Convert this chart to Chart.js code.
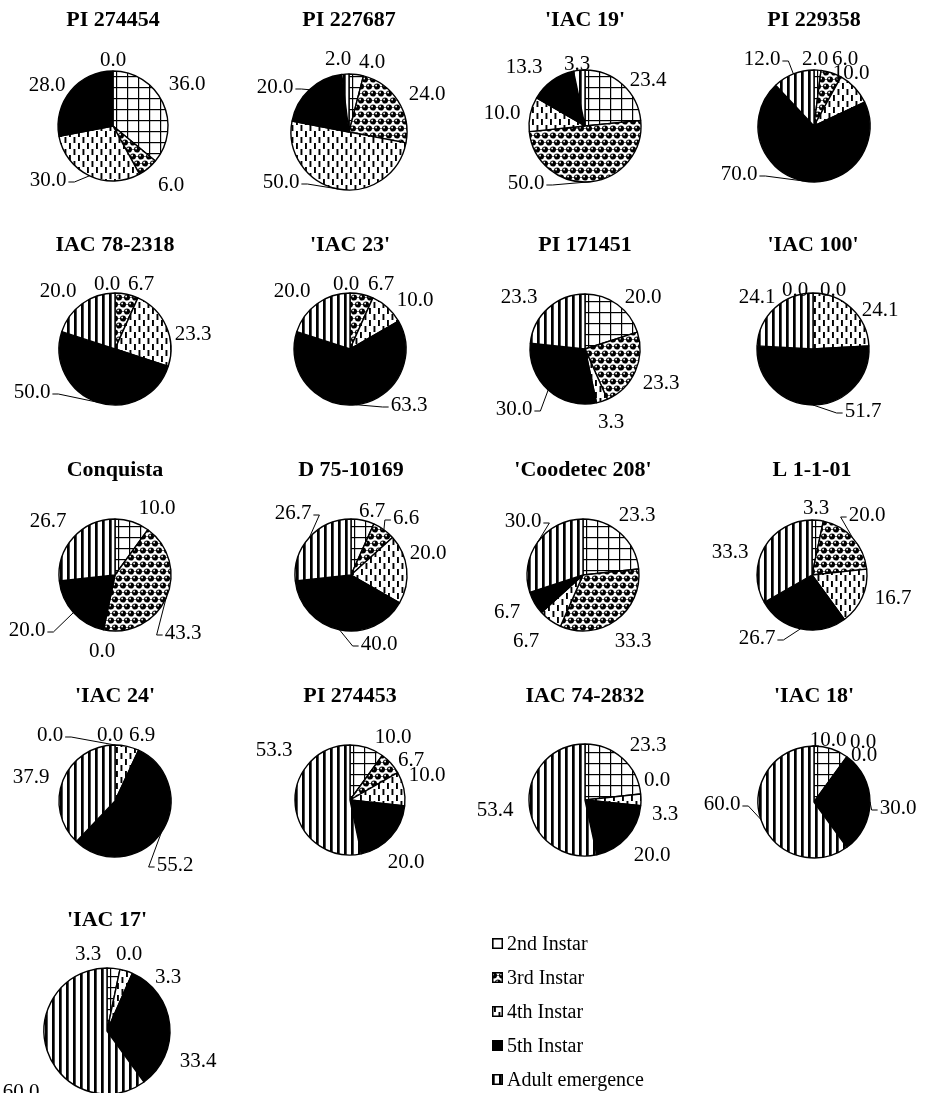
<!DOCTYPE html>
<html>
<head>
<meta charset="utf-8">
<script src="https://cdn.jsdelivr.net/npm/chart.js@4.4.0/dist/chart.umd.min.js"></script>
<style>
  body { margin: 0; width: 925px; height: 1093px; overflow: hidden; background: #fff; position: relative;
         font-family: "Liberation Serif", "Times New Roman", serif; }
  canvas.pie { position: absolute; }
  #legend { position: absolute; left: 492px; top: 926px; }
  .item { display: flex; align-items: center; height: 34px; font-size: 20px; color: #000; }
  .item canvas { margin-right: 4px; }
</style>
</head>
<body>
<div id="legend"></div>
<script>
// stages, in slice order (clockwise from the top)
const stages = ["2nd Instar", "3rd Instar", "4th Instar", "5th Instar", "Adult emergence"];

const genotypes = ["PI 274454", "PI 227687", "'IAC 19'", "PI 229358",
  "IAC 78-2318", "'IAC 23'", "PI 171451", "'IAC 100'",
  "Conquista", "D 75-10169", "'Coodetec 208'", "L 1-1-01",
  "'IAC 24'", "PI 274453", "IAC 74-2832", "'IAC 18'", "'IAC 17'"];

// % of insects reaching each stage
const pi274454 = [36.0, 6.0, 30.0, 28.0, 0.0];
const pi227687 = [4.0, 24.0, 50.0, 20.0, 2.0];
const iac19 = [23.4, 50.0, 10.0, 13.3, 3.3];
const pi229358 = [2.0, 6.0, 10.0, 70.0, 12.0];
const iac782318 = [0.0, 6.7, 23.3, 50.0, 20.0];
const iac23 = [0.0, 6.7, 10.0, 63.3, 20.0];
const pi171451 = [20.0, 23.3, 3.3, 30.0, 23.3];
const iac100 = [0.0, 0.0, 24.1, 51.7, 24.1];
const conquista = [10.0, 43.3, 0.0, 20.0, 26.7];
const d7510169 = [6.7, 6.6, 20.0, 40.0, 26.7];
const coodetec208 = [23.3, 33.3, 6.7, 6.7, 30.0];
const l1101 = [3.3, 20.0, 16.7, 26.7, 33.3];
const iac24 = [0.0, 0.0, 6.9, 55.2, 37.9];
const pi274453 = [10.0, 6.7, 10.0, 20.0, 53.3];
const iac742832 = [23.3, 0.0, 3.3, 20.0, 53.4];
const iac18 = [10.0, 0.0, 0.0, 30.0, 60.0];
const iac17 = [3.3, 0.0, 3.3, 33.4, 60.0];

const series = [pi274454, pi227687, iac19, pi229358, iac782318, iac23, pi171451, iac100,
  conquista, d7510169, coodetec208, l1101, iac24, pi274453, iac742832, iac18, iac17];

// page layout: pie centre, radius and title line
const centers = [[113, 126], [349, 132], [585, 126], [814, 126],
  [115, 349], [350, 349], [585, 349], [813, 349],
  [115, 575], [351, 575], [583, 575], [812, 575],
  [115, 801], [350, 800], [585, 800], [814, 802], [107, 1031]];
const radii = [55, 58, 56, 56, 56, 56, 55, 56, 56, 56, 56, 55, 56, 55, 56, 56, 63];
const titleRows = [20, 245, 470, 696, 920];

// where each value label sits, relative to the pie centre
const labelSpots = [
  [[74, -43], [58, 58], [-65, 53], [-66, -42], [0, -67]],
  [[23, -71], [78, -39], [-68, 49], [-74, -46], [-11, -74]],
  [[63, -47], [-59, 56], [-83, -14], [-61, -60], [-8, -63]],
  [[1, -68], [31, -68], [37, -54], [-75, 47], [-52, -68]],
  [[-8, -66], [26, -66], [78, -16], [-83, 42], [-57, -59]],
  [[-4, -66], [31, -66], [65, -50], [59, 55], [-58, -59]],
  [[58, -53], [76, 33], [26, 72], [-71, 59], [-66, -53]],
  [[-18, -60], [20, -60], [67, -40], [50, 61], [-56, -53]],
  [[42, -68], [68, 57], [-13, 75], [-88, 54], [-67, -55]],
  [[21, -65], [55, -58], [77, -23], [28, 68], [-58, -63]],
  [[54, -61], [50, 65], [-57, 65], [-76, 36], [-60, -55]],
  [[4, -68], [55, -61], [81, 22], [-55, 62], [-82, -24]],
  [[-65, -67], [-5, -67], [27, -67], [60, 63], [-84, -25]],
  [[43, -64], [61, -41], [77, -26], [56, 61], [-76, -51]],
  [[63, -56], [72, -21], [80, 13], [67, 54], [-90, 9]],
  [[14, -63], [49, -61], [50, -48], [84, 5], [-92, 1]],
  [[-19, -78], [22, -78], [61, -55], [91, 29], [-86, 60]]
];
const leaders = [
  [0, 0, 1, 0, 0], [0, 0, 1, 1, 0], [0, 1, 0, 0, 0], [0, 0, 0, 1, 1],
  [0, 0, 0, 1, 0], [0, 0, 0, 1, 0], [0, 0, 0, 1, 0], [0, 0, 0, 1, 0],
  [0, 1, 0, 1, 0], [0, 1, 0, 1, 1], [0, 0, 0, 0, 1], [0, 1, 0, 1, 0],
  [1, 0, 0, 1, 0], [0, 0, 0, 0, 0], [0, 0, 0, 0, 0], [0, 0, 0, 1, 1], [0, 0, 0, 0, 0]
];

function makeFill(kind) {
  const c = document.createElement("canvas");
  const g = c.getContext("2d");
  if (kind === "grid") {
    c.width = 11; c.height = 11;
    g.fillStyle = "#fff"; g.fillRect(0, 0, 11, 11);
    g.fillStyle = "#000"; g.fillRect(0, 0, 11, 1.2); g.fillRect(0, 0, 1.2, 11);
  } else if (kind === "dots") {
    c.width = 8; c.height = 14;
    g.fillStyle = "#fff"; g.fillRect(0, 0, 8, 14);
    g.strokeStyle = "#000"; g.lineWidth = 0.6;
    g.beginPath();
    g.moveTo(0, 3.5); g.lineTo(8, 3.5); g.moveTo(0, 10.5); g.lineTo(8, 10.5);
    g.stroke();
    [[2, 3.5], [10, 3.5], [6, 10.5], [-2, 10.5]].forEach(([x, y]) => {
      g.fillStyle = "#000"; g.beginPath(); g.arc(x, y, 3.0, 0, Math.PI * 2); g.fill();
      g.fillStyle = "#fff"; g.beginPath(); g.arc(x - 0.9, y - 1, 0.9, 0, Math.PI * 2); g.fill();
    });
  } else if (kind === "dash") {
    c.width = 9; c.height = 12;
    g.fillStyle = "#fff"; g.fillRect(0, 0, 9, 12);
    g.fillStyle = "#000"; g.fillRect(2, 0, 1.9, 6); g.fillRect(6.5, 6, 1.9, 6);
  } else if (kind === "vlines") {
    c.width = 7; c.height = 7;
    g.fillStyle = "#fff"; g.fillRect(0, 0, 7, 7);
    g.fillStyle = "#000"; g.fillRect(0, 0, 2.7, 7);
  }
  return g.createPattern(c, "repeat");
}

const fills = [makeFill("grid"), makeFill("dots"), makeFill("dash"), "#000", makeFill("vlines")];

const sliceLabels = {
  id: "sliceLabels",
  afterDatasetsDraw(chart, args, opts) {
    const ctx = chart.ctx;
    const meta = chart.getDatasetMeta(0);
    const vals = chart.data.datasets[0].data;
    ctx.save();
    ctx.font = '21px "Liberation Serif"';
    ctx.fillStyle = "#000";
    ctx.strokeStyle = "#000";
    ctx.lineWidth = 1;
    ctx.textAlign = "center";
    ctx.textBaseline = "alphabetic";
    meta.data.forEach((arc, i) => {
      const p = arc.getProps(["x", "y", "startAngle", "endAngle", "outerRadius"], true);
      const mid = (p.startAngle + p.endAngle) / 2;
      const [dx, dy] = opts.spots[i];
      const lx = p.x + dx, ly = p.y + dy;
      const txt = vals[i].toFixed(1);
      const w = ctx.measureText(txt).width;
      ctx.fillText(txt, lx, ly + 7);
      if (opts.leaders[i]) {
        const ex = p.x + Math.cos(mid) * p.outerRadius;
        const ey = p.y + Math.sin(mid) * p.outerRadius;
        const side = ex < lx ? -1 : 1;
        const sx = lx + side * (w / 2 + 2);
        const sy = ly + 3;
        ctx.beginPath();
        ctx.moveTo(sx, sy);
        ctx.lineTo(sx + side * 6, sy);
        ctx.lineTo(ex, ey);
        ctx.stroke();
      }
    });
    ctx.restore();
  }
};

const W = 236, H = 250;
series.forEach((vals, k) => {
  const [cx, cy] = centers[k];
  const ty = titleRows[Math.floor(k / 4)];
  const top = ty - 21;
  const left = cx - W / 2;
  const canvas = document.createElement("canvas");
  canvas.className = "pie";
  canvas.width = W; canvas.height = H;
  canvas.style.left = left + "px";
  canvas.style.top = top + "px";
  document.body.appendChild(canvas);
  const titleBlock = 22 * 1.2 + 8 + 4;
  const padBottom = titleBlock + H - 2 * (cy - top);

  new Chart(canvas, {
    type: "pie",
    data: {
      labels: stages,
      datasets: [{
        data: vals,
        backgroundColor: fills,
        borderColor: "#000",
        borderWidth: 1.4
      }]
    },
    options: {
      responsive: false,
      animation: false,
      events: [],
      radius: radii[k],
      layout: { padding: { top: 0, left: 0, right: 0, bottom: padBottom } },
      plugins: {
        legend: { display: false },
        tooltip: { enabled: false },
        title: {
          display: true,
          text: genotypes[k],
          color: "#000",
          font: { family: "Liberation Serif", size: 22, weight: "bold" },
          padding: { top: 8, bottom: 4 }
        },
        sliceLabels: { spots: labelSpots[k], leaders: leaders[k] }
      }
    },
    plugins: [sliceLabels]
  });
});

// legend with small pattern swatches
const legend = document.getElementById("legend");
stages.forEach((name, i) => {
  const row = document.createElement("div");
  row.className = "item";
  const sw = document.createElement("canvas");
  sw.width = 11; sw.height = 11;
  const g = sw.getContext("2d");
  g.fillStyle = fills[i];
  g.fillRect(0, 0, 11, 11);
  g.strokeStyle = "#000"; g.lineWidth = 1.5;
  g.strokeRect(0.75, 0.75, 9.5, 9.5);
  row.appendChild(sw);
  const t = document.createElement("span");
  t.textContent = name;
  row.appendChild(t);
  legend.appendChild(row);
});
</script>
</body>
</html>
